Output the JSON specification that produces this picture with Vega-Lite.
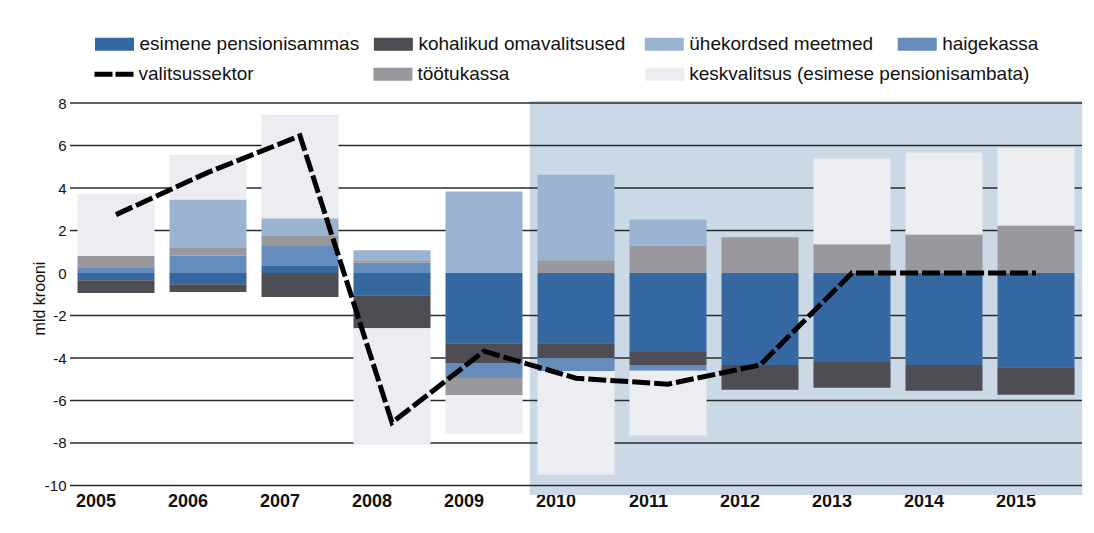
{
  "$schema": "https://vega.github.io/schema/vega-lite/v6.json",
  "width": 1012,
  "height": 394,
  "autosize": {"type": "none"},
  "padding": {"left": 70, "top": 101, "right": 12, "bottom": 38},
  "background": "white",
  "config": {"font": "Liberation Sans", "view": {"stroke": null}},
  "datasets": {
    "komponendid": [
      {"aasta": "2005", "komponent": "esimene pensionisammas", "v": -0.34},
      {"aasta": "2005", "komponent": "kohalikud omavalitsused", "v": -0.60},
      {"aasta": "2005", "komponent": "haigekassa", "v": 0.24},
      {"aasta": "2005", "komponent": "töötukassa", "v": 0.56},
      {"aasta": "2005", "komponent": "keskvalitsus (esimese pensionisambata)", "v": 2.93},
      {"aasta": "2006", "komponent": "esimene pensionisammas", "v": -0.53},
      {"aasta": "2006", "komponent": "kohalikud omavalitsused", "v": -0.36},
      {"aasta": "2006", "komponent": "haigekassa", "v": 0.83},
      {"aasta": "2006", "komponent": "töötukassa", "v": 0.39},
      {"aasta": "2006", "komponent": "ühekordsed meetmed", "v": 2.24},
      {"aasta": "2006", "komponent": "keskvalitsus (esimese pensionisambata)", "v": 2.11},
      {"aasta": "2007", "komponent": "esimene pensionisammas", "v": 0.33},
      {"aasta": "2007", "komponent": "kohalikud omavalitsused", "v": -1.13},
      {"aasta": "2007", "komponent": "haigekassa", "v": 0.94},
      {"aasta": "2007", "komponent": "töötukassa", "v": 0.47},
      {"aasta": "2007", "komponent": "ühekordsed meetmed", "v": 0.84},
      {"aasta": "2007", "komponent": "keskvalitsus (esimese pensionisambata)", "v": 4.87},
      {"aasta": "2008", "komponent": "esimene pensionisammas", "v": -1.05},
      {"aasta": "2008", "komponent": "kohalikud omavalitsused", "v": -1.55},
      {"aasta": "2008", "komponent": "haigekassa", "v": 0.50},
      {"aasta": "2008", "komponent": "töötukassa", "v": 0.10},
      {"aasta": "2008", "komponent": "ühekordsed meetmed", "v": 0.47},
      {"aasta": "2008", "komponent": "keskvalitsus (esimese pensionisambata)", "v": -5.49},
      {"aasta": "2009", "komponent": "esimene pensionisammas", "v": -3.30},
      {"aasta": "2009", "komponent": "kohalikud omavalitsused", "v": -0.94},
      {"aasta": "2009", "komponent": "haigekassa", "v": -0.70},
      {"aasta": "2009", "komponent": "töötukassa", "v": -0.80},
      {"aasta": "2009", "komponent": "ühekordsed meetmed", "v": 3.84},
      {"aasta": "2009", "komponent": "keskvalitsus (esimese pensionisambata)", "v": -1.82},
      {"aasta": "2010", "komponent": "esimene pensionisammas", "v": -3.30},
      {"aasta": "2010", "komponent": "kohalikud omavalitsused", "v": -0.70},
      {"aasta": "2010", "komponent": "haigekassa", "v": -0.61},
      {"aasta": "2010", "komponent": "töötukassa", "v": 0.60},
      {"aasta": "2010", "komponent": "ühekordsed meetmed", "v": 4.03},
      {"aasta": "2010", "komponent": "keskvalitsus (esimese pensionisambata)", "v": -4.89},
      {"aasta": "2011", "komponent": "esimene pensionisammas", "v": -3.72},
      {"aasta": "2011", "komponent": "kohalikud omavalitsused", "v": -0.61},
      {"aasta": "2011", "komponent": "haigekassa", "v": -0.27},
      {"aasta": "2011", "komponent": "töötukassa", "v": 1.30},
      {"aasta": "2011", "komponent": "ühekordsed meetmed", "v": 1.22},
      {"aasta": "2011", "komponent": "keskvalitsus (esimese pensionisambata)", "v": -3.05},
      {"aasta": "2012", "komponent": "esimene pensionisammas", "v": -4.33},
      {"aasta": "2012", "komponent": "kohalikud omavalitsused", "v": -1.16},
      {"aasta": "2012", "komponent": "töötukassa", "v": 1.68},
      {"aasta": "2013", "komponent": "esimene pensionisammas", "v": -4.19},
      {"aasta": "2013", "komponent": "kohalikud omavalitsused", "v": -1.21},
      {"aasta": "2013", "komponent": "töötukassa", "v": 1.35},
      {"aasta": "2013", "komponent": "keskvalitsus (esimese pensionisambata)", "v": 4.04},
      {"aasta": "2014", "komponent": "esimene pensionisammas", "v": -4.33},
      {"aasta": "2014", "komponent": "kohalikud omavalitsused", "v": -1.21},
      {"aasta": "2014", "komponent": "töötukassa", "v": 1.82},
      {"aasta": "2014", "komponent": "keskvalitsus (esimese pensionisambata)", "v": 3.85},
      {"aasta": "2015", "komponent": "esimene pensionisammas", "v": -4.43},
      {"aasta": "2015", "komponent": "kohalikud omavalitsused", "v": -1.30},
      {"aasta": "2015", "komponent": "töötukassa", "v": 2.24},
      {"aasta": "2015", "komponent": "keskvalitsus (esimese pensionisambata)", "v": 3.66}
    ],
    "jarjestus": [
      {"komponent": "esimene pensionisammas", "jrk": 1},
      {"komponent": "kohalikud omavalitsused", "jrk": 2},
      {"komponent": "haigekassa", "jrk": 3},
      {"komponent": "töötukassa", "jrk": 4},
      {"komponent": "ühekordsed meetmed", "jrk": 5},
      {"komponent": "keskvalitsus (esimese pensionisambata)", "jrk": 6}
    ],
    "valitsussektor": [
      {"aasta": "2005", "saldo": 2.75},
      {"aasta": "2006", "saldo": 4.74},
      {"aasta": "2007", "saldo": 6.46},
      {"aasta": "2008", "saldo": -7.04},
      {"aasta": "2009", "saldo": -3.68},
      {"aasta": "2010", "saldo": -4.95},
      {"aasta": "2011", "saldo": -5.23},
      {"aasta": "2012", "saldo": -4.33},
      {"aasta": "2013", "saldo": 0},
      {"aasta": "2014", "saldo": 0},
      {"aasta": "2015", "saldo": 0}
    ],
    "prognoos": [
      {"aasta": "2010"}, {"aasta": "2011"}, {"aasta": "2012"},
      {"aasta": "2013"}, {"aasta": "2014"}, {"aasta": "2015"}
    ],
    "jooned": [
      {"g": -10}, {"g": -8}, {"g": -6}, {"g": -4}, {"g": -2},
      {"g": 2}, {"g": 4}, {"g": 6}, {"g": 8}
    ]
  },
  "layer": [
    {
      "data": {"name": "prognoos"},
      "mark": {"type": "bar", "width": {"band": 1.2}, "color": "#cbd9e7"},
      "encoding": {
        "x": {"field": "aasta", "type": "ordinal", "scale": {"paddingInner": 0.163, "paddingOuter": 0.0815}},
        "y": {"datum": 8.1, "type": "quantitative", "scale": {"domain": [-10.45, 8.1], "nice": false, "zero": false}},
        "y2": {"datum": -10.45}
      }
    },
    {
      "data": {"name": "jooned"},
      "mark": {"type": "rule", "color": "#2b2b2b", "strokeWidth": 1.5},
      "encoding": {
        "y": {"field": "g", "type": "quantitative", "scale": {"domain": [-10.45, 8.1], "nice": false, "zero": false}}
      }
    },
    {
      "data": {"name": "komponendid"},
      "transform": [
        {"lookup": "komponent", "from": {"data": {"name": "jarjestus"}, "key": "komponent", "fields": ["jrk"]}}
      ],
      "mark": {"type": "bar"},
      "encoding": {
        "x": {
          "field": "aasta", "type": "ordinal",
          "scale": {"paddingInner": 0.163, "paddingOuter": 0.0815},
          "axis": {"title": null, "domain": false, "ticks": false, "labelAngle": 0, "labelFontSize": 18, "labelFontWeight": "bold", "labelColor": "#111", "labelPadding": 6}
        },
        "y": {
          "field": "v", "type": "quantitative", "stack": "zero",
          "scale": {"domain": [-10.45, 8.1], "nice": false, "zero": false},
          "axis": {"title": "mld krooni", "values": [-10, -8, -6, -4, -2, 0, 2, 4, 6, 8], "labelExpr": "'' + datum.value", "grid": false, "domain": false, "ticks": false, "labelFontSize": 15, "labelColor": "#111", "labelPadding": 4, "titleFontSize": 16, "titleFontWeight": "normal", "titleColor": "#111", "titlePadding": -3}
        },
        "order": {"field": "jrk", "type": "quantitative", "sort": "ascending"},
        "fill": {
          "field": "komponent", "type": "nominal",
          "scale": {
            "domain": ["esimene pensionisammas", "kohalikud omavalitsused", "ühekordsed meetmed", "haigekassa", "töötukassa", "keskvalitsus (esimese pensionisambata)"],
            "range": ["#3568a0", "#4e4d53", "#9ab3d1", "#658cba", "#99989d", "#ecedf0"]
          },
          "legend": {
            "title": null,
            "values": ["esimene pensionisammas", "kohalikud omavalitsused", "ühekordsed meetmed", "haigekassa"],
            "orient": "none",
            "legendX": 25,
            "legendY": -76.5,
            "direction": "horizontal",
            "columns": 4,
            "columnPadding": 13.9,
            "padding": 0,
            "symbolSize": 1521,
            "symbolStrokeWidth": 0,
            "symbolType": "M-1,-0.3333H1V0.3333H-1Z",
            "labelFontSize": 19,
            "labelColor": "#111",
            "labelOffset": 5.5,
            "labelLimit": 1000,
            "labelExpr": "datum.value === 'kohalikud omavalitsused' ? datum.label + '\u00a0\u200b' : datum.value === 'ühekordsed meetmed' ? datum.label + '\u00a0\u00a0\u200b' : datum.label",
            "encode": {
              "symbols": {
                "update": {
                  "shape": {"value": "M-1,-0.3333H1V0.3333H-1Z"},
                  "fill": {"signal": "scale('fill', datum.value)"},
                  "stroke": {"value": "transparent"},
                  "strokeWidth": {"value": 0},
                  "opacity": {"value": 1}
                }
              }
            }
          }
        }
      }
    },
    {
      "mark": {"type": "rule", "color": "#2b2b2b", "strokeWidth": 1.5},
      "encoding": {
        "y": {"datum": 0, "type": "quantitative", "scale": {"domain": [-10.45, 8.1], "nice": false, "zero": false}}
      }
    },
    {
      "data": {"name": "valitsussektor"},
      "mark": {"type": "line", "strokeWidth": 5, "strokeDash": [18, 4], "strokeJoin": "miter"},
      "encoding": {
        "x": {"field": "aasta", "type": "ordinal"},
        "y": {"field": "saldo", "type": "quantitative", "scale": {"domain": [-10.45, 8.1], "nice": false, "zero": false}},
        "stroke": {
          "datum": "valitsussektor",
          "scale": {
            "domain": ["valitsussektor", "töötukassa", "keskvalitsus (esimese pensionisambata)"],
            "range": ["#000000", "#99989d", "#ecedf0"]
          },
          "legend": {
            "title": null,
            "orient": "none",
            "legendX": 34.5,
            "legendY": -36.5,
            "direction": "horizontal",
            "columns": 3,
            "columnPadding": 13.9,
            "padding": 0,
            "symbolSize": 1521,
            "symbolStrokeWidth": 0,
            "symbolType": "M-1,-0.3333H1V0.3333H-1Z",
            "labelFontSize": 19,
            "labelColor": "#111",
            "labelOffset": 15,
            "labelLimit": 1000,
            "labelExpr": "datum.value === 'valitsussektor' ? datum.label + '\u00a0\u00a0\u00a0\u00a0\u00a0\u00a0\u00a0\u00a0\u00a0\u00a0\u00a0\u00a0\u00a0\u00a0\u00a0\u00a0\u00a0\u00a0\u00a0\u00a0\u200b' : datum.value === 'töötukassa' ? datum.label + '\u00a0\u00a0\u00a0\u00a0\u00a0\u00a0\u00a0\u00a0\u00a0\u00a0\u00a0\u00a0\u00a0\u00a0\u00a0\u00a0\u00a0\u00a0\u00a0\u00a0\u00a0\u00a0\u00a0\u200b' : datum.label",
            "encode": {
              "symbols": {
                "update": {
                  "shape": {"signal": "datum.value === 'valitsussektor' ? 'stroke' : 'M-1,-0.3333H1V0.3333H-1Z'"},
                  "fill": {"signal": "datum.value === 'valitsussektor' ? 'transparent' : scale('stroke', datum.value)"},
                  "stroke": {"signal": "datum.value === 'valitsussektor' ? '#000000' : 'transparent'"},
                  "strokeWidth": {"signal": "datum.value === 'valitsussektor' ? 5 : 0"},
                  "strokeDash": {"signal": "datum.value === 'valitsussektor' ? [18, 3] : [1, 0]"},
                  "opacity": {"value": 1}
                }
              }
            }
          }
        }
      }
    }
  ]
}
